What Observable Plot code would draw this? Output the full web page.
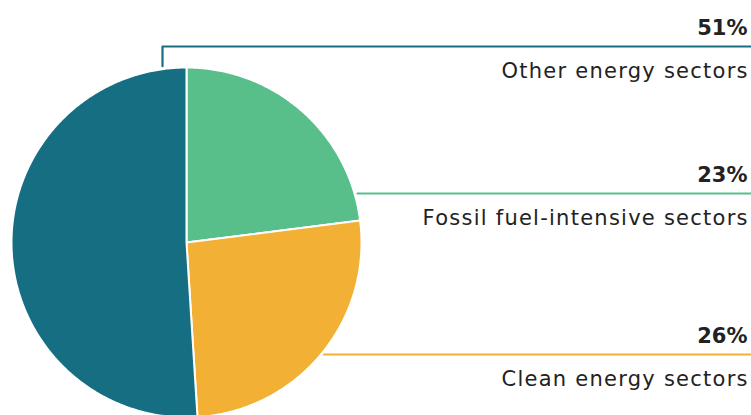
<!DOCTYPE html>
<html>
<head>
<meta charset="utf-8">
<script src="https://cdn.jsdelivr.net/npm/d3@7"></script>
<script src="https://cdn.jsdelivr.net/npm/@observablehq/plot@0.6"></script>
<style>
  html, body { margin: 0; padding: 0; background: #fff; }
  #chart svg { display: block; }
</style>
</head>
<body>
<div id="chart"></div>
<script>
// ---- data ----
const categories = ["Fossil fuel-intensive sectors", "Clean energy sectors", "Other energy sectors"];
const shares = [23, 26, 51];
const shareLabels = ["23%", "26%", "51%"];
const colors = ["#58be8a", "#f2b134", "#166e82"];

// ---- layout (pixels) ----
const W = 751, H = 415;
const CX = 186, CY = 242, R = 175;           // pie centre / radius
const labelLineY = [193, 354, 46];           // leader-line heights per category
const elbowX = [null, null, 162];            // vertical elbow for the top label
const gap = 3;                               // gap between pie edge and leader
const textRight = 747;

// scales in unit-radius coordinates
const xDomain = [-CX / R, (W - CX) / R];
const yDomain = [-(H - CY) / R, CY / R];
const toV = (py) => (CY - py) / R;
const toU = (px) => (px - CX) / R;

const rows = categories.map((c, i) => ({name: c, value: shares[i], label: shareLabels[i], color: colors[i], i}));
const arcs = d3.pie().sort(null).value(d => d.value)(rows);

// slice polygons computed from the pie angles
const slicePts = [];
for (const a of arcs) {
  slicePts.push({name: a.data.name, u: 0, v: 0});
  const n = Math.max(2, Math.ceil((a.endAngle - a.startAngle) / (Math.PI / 360)));
  for (let k = 0; k <= n; k++) {
    const t = a.startAngle + (a.endAngle - a.startAngle) * k / n;
    slicePts.push({name: a.data.name, u: Math.sin(t), v: Math.cos(t)});
  }
}

// leader lines
const leaderPts = [];
rows.forEach((d, i) => {
  const vy = toV(labelLineY[i]);
  if (elbowX[i] != null) {
    const u0 = toU(elbowX[i]);
    const vEdge = Math.sqrt(1 - u0 * u0) + gap / R;
    leaderPts.push({name: d.name, u: u0, v: vEdge});
    leaderPts.push({name: d.name, u: u0, v: vy});
    leaderPts.push({name: d.name, u: xDomain[1] + 0.05, v: vy});
  } else {
    const uEdge = Math.sqrt(Math.max(0, 1 - vy * vy)) + gap / R;
    leaderPts.push({name: d.name, u: uEdge, v: vy});
    leaderPts.push({name: d.name, u: xDomain[1] + 0.05, v: vy});
  }
});

const labelRows = rows.map((d, i) => ({...d, u: toU(textRight), v: toV(labelLineY[i])}));

const font = "'DejaVu Sans', sans-serif";

const chart = Plot.plot({
  width: W,
  height: H,
  margin: 0,
  x: {domain: xDomain, axis: null},
  y: {domain: yDomain, axis: null},
  color: {domain: categories, range: colors},
  style: {fontFamily: font, background: "white", overflow: "hidden"},
  marks: [
    Plot.line(slicePts, {x: "u", y: "v", z: "name", fill: "name", stroke: "white", strokeWidth: 2, curve: "linear-closed"}),
    Plot.line(leaderPts, {x: "u", y: "v", z: "name", stroke: "name", strokeWidth: 2.2}),
    Plot.text(labelRows, {x: "u", y: "v", text: "label", textAnchor: "end", lineAnchor: "bottom", dy: -12, fontSize: 21, fontWeight: "bold", fill: "#222"}),
    Plot.text(labelRows, {x: "u", y: "v", text: "name", textAnchor: "end", lineAnchor: "bottom", dy: 31, fontSize: 21, fill: "#222"})
  ]
});
// widen tracking of the category names to match the reference typeface
const textGroups = chart.querySelectorAll('g[aria-label="text"]');
if (textGroups.length > 1) {
  textGroups[1].setAttribute("letter-spacing", "1.25");
  textGroups[1].setAttribute("transform", (textGroups[1].getAttribute("transform") || "") + " translate(1.25,0)");
}
document.getElementById("chart").append(chart);
</script>
</body>
</html>
